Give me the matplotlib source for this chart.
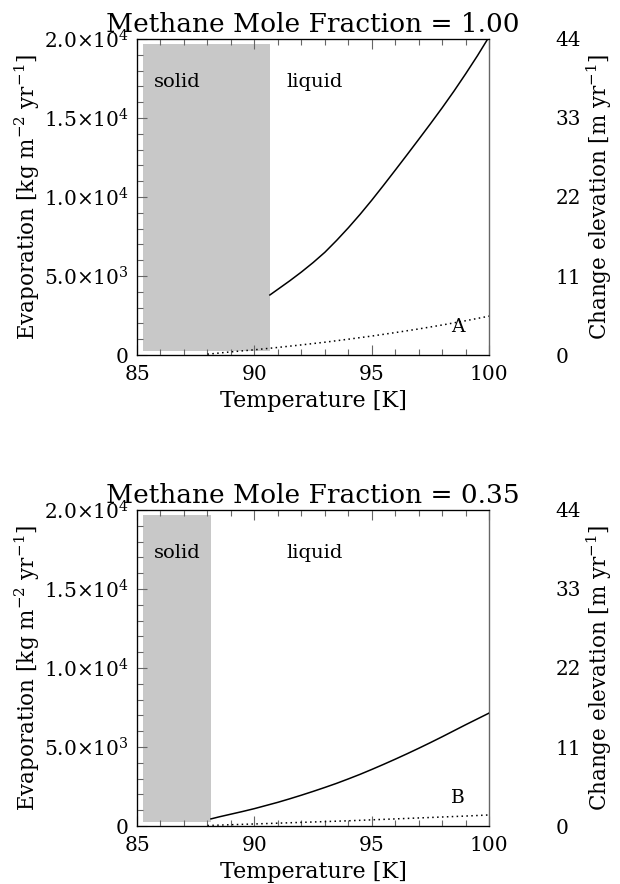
import numpy as np
import matplotlib
matplotlib.use('Agg')
import matplotlib.pyplot as plt
from matplotlib.patches import Rectangle
from matplotlib.ticker import MultipleLocator

plt.rcParams['font.family'] = ['DejaVu Serif']
plt.rcParams['mathtext.fontset'] = 'dejavuserif'

# --- data ---
fractions = ['1.00', '0.35']
panel_tags = ['A', 'B']
melt_T = [90.66, 88.15]          # right edge of the "solid" band [K]

temp_a = [90.66, 91, 91.5, 92, 92.5, 93, 93.5, 94, 94.5, 95, 95.5,
          96, 96.5, 97, 97.5, 98, 98.5, 99, 99.5, 100]
evap_a = [3800, 4160, 4690, 5250, 5850, 6500, 7250, 8050, 8900, 9800, 10740,
          11700, 12670, 13650, 14640, 15650, 16700, 17800, 18940, 20150]
temp_a_dot = [88, 89, 90, 91, 92, 93, 94, 95, 96, 97, 98, 99, 100]
evap_a_dot = [50, 200, 330, 480, 640, 810, 1000, 1200, 1420, 1650, 1900, 2170, 2460]

temp_b = [88.15, 88.5, 89, 89.5, 90, 90.5, 91, 91.5, 92, 92.5, 93, 93.5, 94,
          94.5, 95, 95.5, 96, 96.5, 97, 97.5, 98, 98.5, 99, 99.5, 100]
evap_b = [450, 580, 750, 920, 1100, 1300, 1500, 1720, 1950, 2190, 2440, 2700, 2980,
          3270, 3580, 3900, 4230, 4570, 4920, 5280, 5650, 6030, 6410, 6780, 7150]
temp_b_dot = [88, 89, 90, 91, 92, 93, 94, 95, 96, 97, 98, 99, 100]
evap_b_dot = [30, 80, 130, 180, 230, 280, 330, 390, 450, 510, 570, 630, 700]

solid_curves = [(temp_a, evap_a), (temp_b, evap_b)]
dotted_curves = [(temp_a_dot, evap_a_dot), (temp_b_dot, evap_b_dot)]

evap_ticks = [0, 5000, 10000, 15000, 20000]
evap_ticklabels = ['0', r'$5.0{\times}10^{3}$', r'$1.0{\times}10^{4}$',
                   r'$1.5{\times}10^{4}$', r'$2.0{\times}10^{4}$']
elev_ticks = [0, 11, 22, 33, 44]
temp_ticks = [85, 90, 95, 100]

fig = plt.figure(figsize=(6.2, 8.84), dpi=100)
edge = '#666666'

bottoms = [0.5984, 0.0656]
for i in range(2):
    ax = fig.add_axes([0.221, bottoms[i], 0.568, 0.3575])
    ax.set_xlim(85, 100)
    ax.set_ylim(0, 20000)

    # solid phase band
    ax.add_patch(Rectangle((85.25, 270), melt_T[i] - 85.25, 19700 - 270,
                           facecolor='#c8c8c8', edgecolor='none', zorder=1))

    ax.plot(*solid_curves[i], color='black', lw=1.1, zorder=3)
    ax.plot(*dotted_curves[i], color='black', lw=1.1, ls=(0, (1, 2.2)), zorder=2)

    ax.text(85.7, 17300, 'solid', fontsize=14, va='center', ha='left')
    ax.text(91.37, 17300, 'liquid', fontsize=14, va='center', ha='left')
    ax.text(98.66, 1750, panel_tags[i], fontsize=13.5, va='center', ha='center')

    ax.set_xticks(temp_ticks)
    ax.set_yticks(evap_ticks)
    ax.set_yticklabels(evap_ticklabels)
    ax.xaxis.set_minor_locator(MultipleLocator(1))
    ax.yaxis.set_minor_locator(MultipleLocator(1000))
    ax.tick_params(which='both', direction='in', top=True, right=True,
                   color=edge, labelsize=14.5)
    ax.tick_params(which='major', length=7, width=0.8)
    ax.tick_params(which='minor', length=4, width=0.8)
    ax.tick_params(axis='x', pad=7)
    ax.tick_params(axis='y', pad=6)
    for sp in ax.spines.values():
        sp.set_color(edge)
        sp.set_linewidth(1.0)

    ax.set_title('Methane Mole Fraction = ' + fractions[i], fontsize=19, pad=5)
    ax.set_xlabel('Temperature [K]', fontsize=16)
    ax.set_ylabel(r'Evaporation [kg m$^{-2}$ yr$^{-1}$]', fontsize=15.5)
    ax.xaxis.set_label_coords(0.5, -0.11)
    ax.yaxis.set_label_coords(-0.27, 0.5)

    ax2 = ax.twinx()
    ax2.set_ylim(0, 44)
    ax2.set_yticks(elev_ticks)
    ax2.tick_params(axis='y', length=0, pad=48, labelsize=14.5)
    ax2.spines['right'].set_visible(False)
    ax2.set_ylabel(r'Change elevation [m yr$^{-1}$]', fontsize=15.5)
    ax2.yaxis.set_label_coords(1.27, 0.5)

fig.savefig('out.png', dpi=100)
